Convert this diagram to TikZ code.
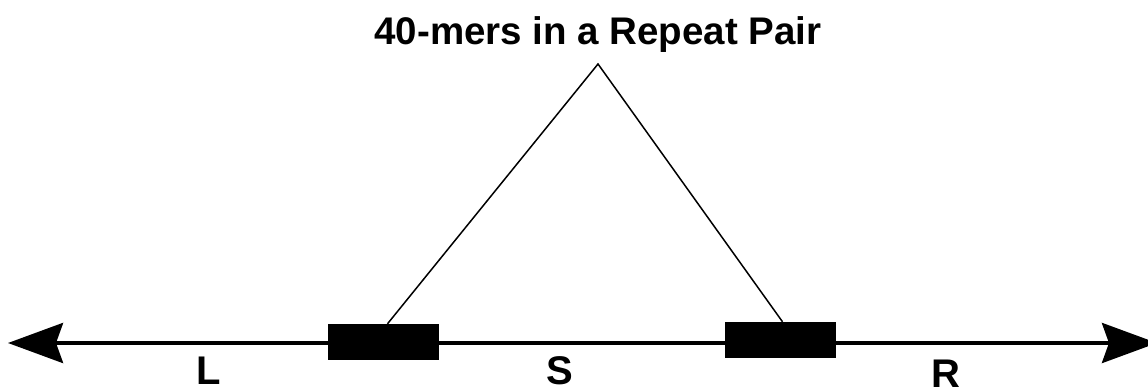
\documentclass[tikz,border=0pt]{standalone}
\usepackage{fontspec}
\setmainfont{Liberation Sans}
\usetikzlibrary{arrows.meta}
\begin{document}
\begin{tikzpicture}[x=1pt,y=-1pt,
  repeatbox/.style={rectangle,fill=black,draw=none,minimum width=111pt,minimum height=36pt,inner sep=0pt},
  label/.style={font=\fontsize{40}{42}\selectfont\bfseries,inner sep=0pt,anchor=base},
  axis/.style={line width=4pt,{Stealth[length=55pt,width=40pt,inset=7pt]}-{Stealth[length=55pt,width=40pt,inset=7pt]}},
  leg/.style={line width=1.5pt}]
\useasboundingbox (0,0) rectangle (1148,390);
\coordinate (lt) at (8,343);
\coordinate (rt) at (1157,343);
\draw[axis] (lt) -- (rt);
\node[repeatbox] (b1) at (383.5,342) {};
\node[repeatbox] (b2) at (780.5,340) {};
\node[label,font=\fontsize{38.5}{40}\selectfont\bfseries] (title) at (598,45) {40-mers in a Repeat Pair};
\coordinate (apex) at (598,64);
\draw[leg] ([xshift=4pt]b1.north) -- (apex) -- ([xshift=2pt]b2.north);
\node[label] (L) at (209,384) {L};
\node[label] (S) at (560,384) {S};
\node[label] (R) at (946,387) {R};
\end{tikzpicture}
\end{document}
